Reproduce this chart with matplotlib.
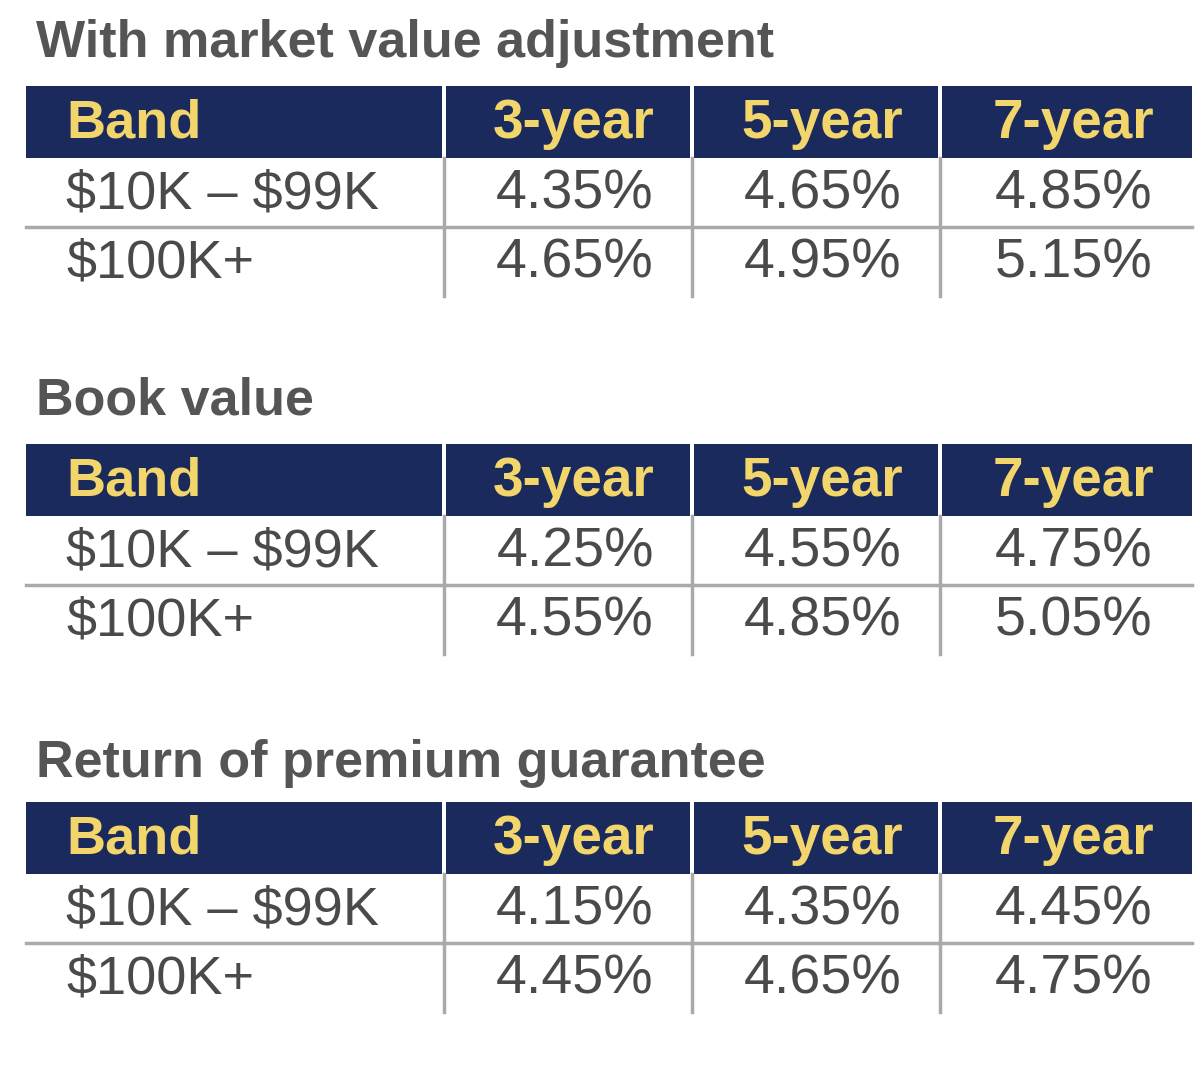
import matplotlib
matplotlib.use("Agg")
import matplotlib.pyplot as plt
from matplotlib.patches import Rectangle

plt.rcParams["text.parse_math"] = False

titles = ["With market value adjustment", "Book value", "Return of premium guarantee"]
columns = ["Band", "3-year", "5-year", "7-year"]
bands = ["$10K – $99K", "$100K+"]
rates_mva = [[4.35, 4.65, 4.85], [4.65, 4.95, 5.15]]
rates_book = [[4.25, 4.55, 4.75], [4.55, 4.85, 5.05]]
rates_rop = [[4.15, 4.35, 4.45], [4.45, 4.65, 4.75]]
tables = [rates_mva, rates_book, rates_rop]

NAVY = "#1b2a5c"
GOLD = "#f2d56b"
TXT = "#4a4a4a"
GRID = "#aaaaaa"
FONT = "Liberation Sans"

fig = plt.figure(figsize=(12, 10.69), dpi=100)
ax = fig.add_axes([0, 0, 1, 1])
ax.set_xlim(0, 1200)
ax.set_ylim(1069, 0)
ax.axis("off")

col_x = [(26, 442), (446, 690), (694, 938), (942, 1192)]
tops = [86, 444, 802]
title_y = [44, 401, 763]
hdr_h = 72
row_h = 69

for t, (title, data) in enumerate(zip(titles, tables)):
    ax.text(36, title_y[t], title, fontsize=37.5, fontweight="bold", color="#555555",
            family=FONT, va="center", ha="left")
    top = tops[t]
    for c, (x0, x1) in enumerate(col_x):
        ax.add_patch(Rectangle((x0, top), x1 - x0, hdr_h, color=NAVY, lw=0))
        if c == 0:
            ax.text(x0 + 40, top + hdr_h / 2 + 2, columns[c], fontsize=39, fontweight="bold",
                    color=GOLD, family=FONT, va="center", ha="left")
        else:
            ax.text((x0 + x1) / 2 + 6, top + hdr_h / 2 + 2, columns[c], fontsize=39.5,
                    fontweight="bold", color=GOLD, family=FONT, va="center", ha="center")
    body_top = top + hdr_h
    for r, (band, vals) in enumerate(zip(bands, data)):
        yc = body_top + r * row_h + row_h / 2 + 2
        ax.text(66, yc, band, fontsize=39, color=TXT, family=FONT, va="center", ha="left")
        for c, v in enumerate(vals):
            x0, x1 = col_x[c + 1]
            ax.text((x0 + x1) / 2 + 7, yc, f"{v:.2f}%", fontsize=40, color=TXT, family=FONT,
                    va="center", ha="center")
    ax.plot([26, 1192], [body_top + row_h, body_top + row_h], color=GRID, lw=2.5)
    for xs in (444, 692, 940):
        ax.plot([xs, xs], [body_top, body_top + 2 * row_h], color=GRID, lw=2.5)

fig.savefig("out.png", dpi=100, facecolor="white")
